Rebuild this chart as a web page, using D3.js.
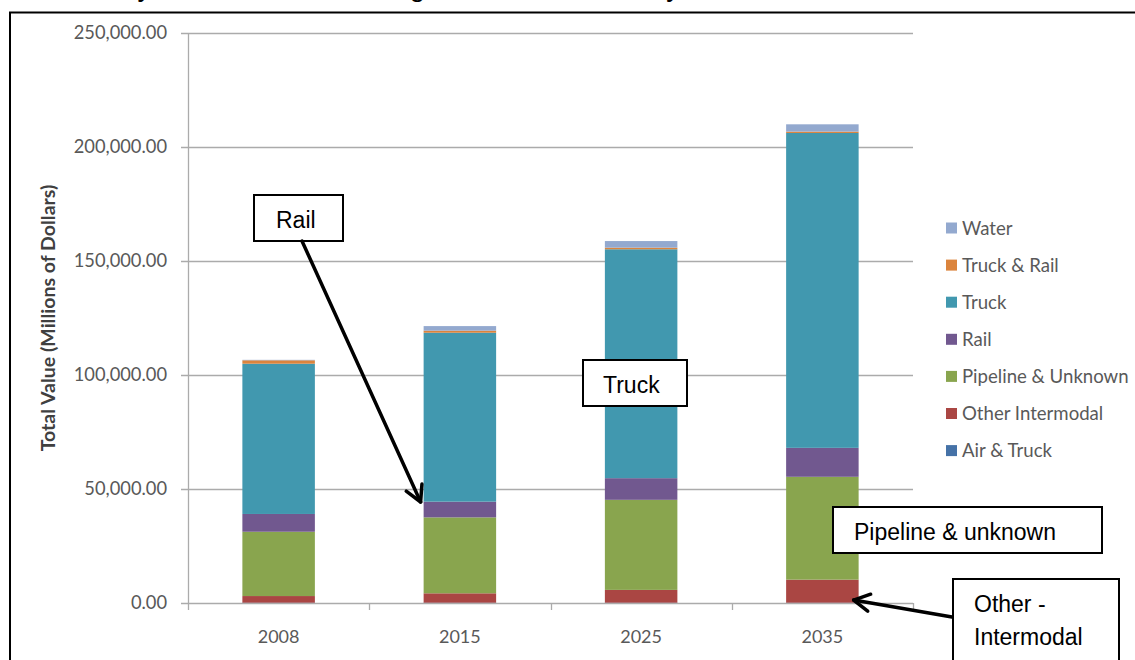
<!DOCTYPE html>
<html><head><meta charset="utf-8">
<script src="https://cdn.jsdelivr.net/npm/d3@7"></script>
<style>
html,body{margin:0;padding:0;background:#fff;}
svg{display:block;}
</style></head>
<body>
<svg id="chart" width="1135" height="660"></svg>
<script>
// ---- data ----
const years = ["2008", "2015", "2025", "2035"];
const airTruck        = [150, 150, 150, 150];
const otherIntermodal = [2900, 4100, 5600, 10100];
const pipelineUnknown = [28200, 33300, 39500, 45100];
const rail            = [7800, 6900, 9500, 12700];
const truck           = [65900, 74100, 100400, 138100];
const truckRail       = [1500, 900, 700, 600];
const water           = [200, 2000, 2900, 3200];
const yTicks = [0, 50000, 100000, 150000, 200000, 250000];
const seriesNames  = ["Air & Truck", "Other Intermodal", "Pipeline & Unknown", "Rail", "Truck", "Truck & Rail", "Water"];
const seriesValues = [airTruck, otherIntermodal, pipelineUnknown, rail, truck, truckRail, water];
const seriesColors = ["#4572A7", "#AA4643", "#89A54E", "#71588F", "#4198AF", "#DB843D", "#93A9CF"];

const rows = years.map((yr, i) => {
  const r = {year: yr};
  seriesNames.forEach((n, k) => r[n] = seriesValues[k][i]);
  return r;
});

const svg = d3.select("#chart");
const pLeft = 188, pRight = 913, pTop = 33, pBottom = 603;

const x = d3.scaleBand().domain(years).range([pLeft, pRight]).paddingInner(0.6).paddingOuter(0.3);
const y = d3.scaleLinear().domain([0, 250000]).range([pBottom, pTop]);
const color = d3.scaleOrdinal().domain(seriesNames).range(seriesColors);

// frame
svg.append("rect").attr("x", 10).attr("y", 12.5).attr("width", 1135).attr("height", 700)
  .attr("fill", "none").attr("stroke", "#000").attr("stroke-width", 2);

// title: only its lowest part shows at the top edge, as in the reference
svg.append("text").attr("x", 10).attr("y", -4)
  .attr("font-family", "Liberation Sans, Arial, sans-serif").attr("font-size", 28).attr("fill", "#000")
  .text("Commodity Value of Annual Freight Moved in Area, by Mode of Transit, 2008–2035");

// grid lines
svg.append("g").selectAll("line").data(yTicks).join("line")
  .attr("x1", pLeft - 7).attr("x2", pRight)
  .attr("y1", d => Math.round(y(d)) + 0.5).attr("y2", d => Math.round(y(d)) + 0.5)
  .attr("stroke", "#ababab").attr("stroke-width", 1.3);

// y axis line
svg.append("line").attr("x1", pLeft + 0.5).attr("x2", pLeft + 0.5).attr("y1", pTop).attr("y2", pBottom + 7)
  .attr("stroke", "#ababab").attr("stroke-width", 1.3);

// x axis ticks at category boundaries
const bounds = d3.range(years.length + 1).map(i => x.range()[0] + i * x.step());
svg.append("g").selectAll("line").data(bounds.slice(1)).join("line")
  .attr("x1", d => Math.round(d) + 0.5).attr("x2", d => Math.round(d) + 0.5)
  .attr("y1", pBottom).attr("y2", pBottom + 7)
  .attr("stroke", "#ababab").attr("stroke-width", 1.3);

// y tick labels
const fmt = d3.format(",.2f");
svg.append("g").selectAll("text").data(yTicks).join("text")
  .attr("x", 167).attr("y", d => y(d)).attr("dy", "0.35em")
  .attr("text-anchor", "end")
  .attr("font-family", "Lato, sans-serif").attr("font-size", 18.3).attr("fill", "#595959")
  .text(d => fmt(d));

// x labels
svg.append("g").selectAll("text").data(years).join("text")
  .attr("x", d => x(d) + x.bandwidth() / 2).attr("y", 643)
  .attr("text-anchor", "middle")
  .attr("font-family", "Lato, sans-serif").attr("font-size", 18).attr("fill", "#595959")
  .text(d => d);

// y axis title
svg.append("text").attr("transform", "translate(55,318) rotate(-90)")
  .attr("text-anchor", "middle")
  .attr("font-family", "Lato, sans-serif").attr("font-weight", "bold").attr("font-size", 19.5).attr("fill", "#404040")
  .text("Total Value (Millions of Dollars)");

// stacked bars
const stacked = d3.stack().keys(seriesNames)(rows);
svg.append("g").selectAll("g").data(stacked).join("g")
  .attr("fill", d => color(d.key))
  .selectAll("rect").data(d => d).join("rect")
  .attr("x", d => x(d.data.year)).attr("width", x.bandwidth())
  .attr("y", d => y(d[1])).attr("height", d => y(d[0]) - y(d[1]));

// legend
const legendOrder = seriesNames.slice().reverse();
const lg = svg.append("g").selectAll("g").data(legendOrder).join("g")
  .attr("transform", (d, i) => `translate(946,${228 + i * 37.1})`);
lg.append("rect").attr("x", 0).attr("y", -5.5).attr("width", 11).attr("height", 11).attr("fill", d => color(d));
lg.append("text").attr("x", 16).attr("y", 0).attr("dy", "0.35em")
  .attr("font-family", "Lato, sans-serif").attr("font-size", 18.6).attr("fill", "#595959")
  .text(d => d);

// annotations
const annFont = "Liberation Sans, Arial, sans-serif";
function box(x0, y0, w, h) {
  svg.append("rect").attr("x", x0).attr("y", y0).attr("width", w).attr("height", h)
    .attr("fill", "#fff").attr("stroke", "#000").attr("stroke-width", 2);
}
function label(tx, ty, s) {
  svg.append("text").attr("x", tx).attr("y", ty)
    .attr("font-family", annFont).attr("font-size", 23).attr("fill", "#000").text(s);
}
function arrow(x1, y1, x2, y2) {
  const g = svg.append("g").attr("stroke", "#000").attr("stroke-width", 3.5).attr("fill", "none")
    .attr("stroke-linecap", "round").attr("stroke-linejoin", "round");
  g.append("line").attr("x1", x1).attr("y1", y1).attr("x2", x2).attr("y2", y2);
  const a = Math.atan2(y2 - y1, x2 - x1), L = 18, s = 0.5;
  g.append("path").attr("d",
    `M${x2 - L * Math.cos(a - s)},${y2 - L * Math.sin(a - s)} L${x2},${y2} L${x2 - L * Math.cos(a + s)},${y2 - L * Math.sin(a + s)}`);
}

// Rail
box(254, 195, 89, 46);
label(276, 228, "Rail");
arrow(302, 241, x("2015") - 3, y(44300));
// Truck
box(583, 360, 104, 46);
label(603, 393, "Truck");
// Pipeline & unknown
box(833, 507, 269, 46);
label(854, 540, "Pipeline & unknown");
// Other - Intermodal
box(953, 579, 166, 120);
label(974, 612, "Other -");
label(974, 645, "Intermodal");
arrow(952, 617, x("2035") + x.bandwidth() - 5, y(1300));
</script>
</body></html>
